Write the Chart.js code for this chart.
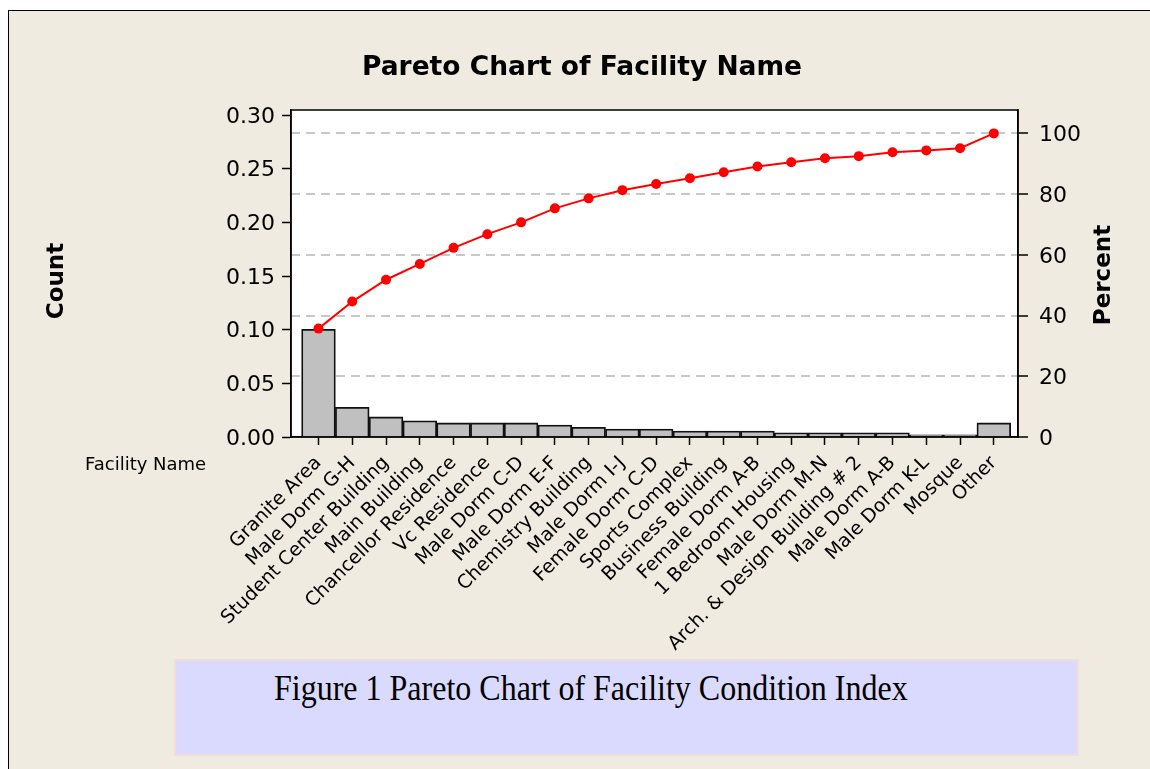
<!DOCTYPE html>
<html>
<head>
<meta charset="utf-8">
<script src="https://cdn.jsdelivr.net/npm/chart.js@4.4.1/dist/chart.umd.min.js"></script>
<style>
  body { margin: 0; width: 1150px; height: 769px; overflow: hidden; position: relative; background: #fff; }
  #frame { position: absolute; left: 8px; top: 10px; width: 1160px; height: 800px; border: 1.5px solid #000; background: #efebe1; }
  #chart { position: absolute; left: 0; top: 0; }
  #caption { position: absolute; left: 174px; top: 659px; width: 901px; height: 93px; background: #dadaff; border: 2px solid #f3dcdc; }
  #caption span { position: absolute; left: 98px; top: 13px; font: 32px "Liberation Serif", "Times New Roman", serif; line-height: 32px; color: #000; white-space: nowrap; transform: scaleY(1.1); transform-origin: left bottom; }
</style>
</head>
<body>
<div id="frame"></div>
<canvas id="chart" width="1150" height="769"></canvas>
<div id="caption"><span>Figure 1 Pareto Chart of Facility Condition Index</span></div>
<script>
// facility names, in pareto order
const facilities = [
  "Granite Area", "Male Dorm G-H", "Student Center Building", "Main Building",
  "Chancellor Residence", "Vc Residence", "Male Dorm C-D", "Male Dorm E-F",
  "Chemistry Building", "Male Dorm I-J", "Female Dorm C-D", "Sports Complex",
  "Business Building", "Female Dorm A-B", "1 Bedroom Housing", "Male Dorm M-N",
  "Arch. & Design Building # 2", "Male Dorm A-B", "Male Dorm K-L", "Mosque", "Other"
];

// bar heights (Count axis)
const counts = [
  0.1003, 0.0277, 0.0187, 0.0150, 0.0131, 0.0131, 0.0131, 0.0112, 0.0090, 0.0074,
  0.0074, 0.0056, 0.0056, 0.0056, 0.0040, 0.0040, 0.0040, 0.0040, 0.0020, 0.0020, 0.0131
];

// cumulative percent (Percent axis)
const cumPercent = [
  35.7, 44.6, 51.8, 57.0, 62.3, 66.8, 70.7, 75.3, 78.6, 81.3,
  83.3, 85.2, 87.2, 89.1, 90.5, 91.8, 92.5, 93.8, 94.4, 95.1, 100
];

const countTicks = [0, 0.05, 0.10, 0.15, 0.20, 0.25, 0.30];
const percentTicks = [0, 20, 40, 60, 80, 100];

const chartTitle = "Pareto Chart of Facility Name";
const leftTitle = "Count";
const rightTitle = "Percent";
const xName = "Facility Name";

const FONT = '"DejaVu Sans", Verdana, sans-serif';

const frameText = {
  id: "frameText",
  beforeDraw(chart) {
    const { ctx, chartArea: a } = chart;
    ctx.save();
    ctx.fillStyle = "#fff";
    ctx.fillRect(a.left, a.top, a.right - a.left, a.bottom - a.top);
    ctx.restore();
  },
  afterDraw(chart) {
    const { ctx, chartArea: a } = chart;
    ctx.save();
    ctx.strokeStyle = "#000";
    ctx.lineWidth = 1.5;
    ctx.strokeRect(a.left, a.top, a.right - a.left, a.bottom - a.top);

    ctx.fillStyle = "#000";
    ctx.textAlign = "center";
    ctx.textBaseline = "middle";
    ctx.font = "bold 26.5px " + FONT;
    ctx.fillText(chartTitle, 582, 68);

    ctx.font = "bold 23px " + FONT;
    ctx.save();
    ctx.translate(57, 281);
    ctx.rotate(-Math.PI / 2);
    ctx.fillText(leftTitle, 0, 0);
    ctx.restore();
    ctx.save();
    ctx.translate(1104, 275);
    ctx.rotate(-Math.PI / 2);
    ctx.fillText(rightTitle, 0, 0);
    ctx.restore();

    ctx.font = "18px " + FONT;
    ctx.textAlign = "left";
    ctx.fillText(xName, 85, 465);
    ctx.restore();
  },
};

const ctx = document.getElementById("chart");
const chart = new Chart(ctx, {
  type: "bar",
  data: {
    datasets: [
      {
        type: "line",
        order: 0,
        yAxisID: "y1",
        data: cumPercent.map((v, i) => ({ x: i, y: v })),
        borderColor: "#ff0000",
        backgroundColor: "#ff0000",
        borderWidth: 2,
        pointRadius: 5,
        pointBorderWidth: 0,
        tension: 0,
      },
      {
        type: "bar",
        order: 1,
        yAxisID: "y",
        data: counts.map((v, i) => ({ x: i, y: v })),
        backgroundColor: "#c0c0c0",
        borderColor: "#111",
        borderWidth: 1.8,
        barPercentage: 1,
        categoryPercentage: 1,
      },
    ],
  },
  options: {
    responsive: false,
    animation: false,
    devicePixelRatio: 1,
    layout: { padding: { top: 110, left: 0, right: 0, bottom: 0 } },
    plugins: {
      legend: { display: false },
      tooltip: { enabled: false },
    },
    scales: {
      x: {
        type: "linear",
        offset: false,
        min: -0.814,
        max: 20.716,
        afterBuildTicks: (scale) => {
          scale.ticks = facilities.map((f, i) => ({ value: i }));
        },
        afterFit: (scale) => {
          scale.height = 332;
        },
        grid: {
          offset: false,
          drawOnChartArea: false,
          tickLength: 8,
          tickColor: "#000",
          tickWidth: 1.5,
        },
        border: { color: "#000", width: 1.5 },
        ticks: {
          autoSkip: false,
          minRotation: 45,
          maxRotation: 45,
          padding: 7,
          color: "#000",
          font: { family: FONT, size: 19 },
          callback: (v) => facilities[v],
        },
      },
      y: {
        position: "left",
        min: 0,
        max: 0.3047,
        afterBuildTicks: (scale) => {
          scale.ticks = countTicks.map((v) => ({ value: v }));
        },
        afterFit: (scale) => {
          scale.width = 291;
        },
        grid: {
          drawOnChartArea: false,
          tickLength: 9,
          tickColor: "#000",
          tickWidth: 1.5,
        },
        border: { color: "#000", width: 1.5 },
        ticks: {
          padding: 7,
          labelOffset: 2,
          color: "#000",
          font: { family: FONT, size: 22 },
          callback: (v) => v.toFixed(2),
        },
      },
      y1: {
        position: "right",
        min: 0,
        max: 107.7,
        afterBuildTicks: (scale) => {
          scale.ticks = percentTicks.map((v) => ({ value: v }));
        },
        afterFit: (scale) => {
          scale.width = 132;
        },
        grid: {
          drawOnChartArea: true,
          color: (c) => (c.tick && c.tick.value === 0 ? "rgba(0,0,0,0)" : "#c8c8c8"),
          lineWidth: 2,
          tickLength: 10,
          tickColor: "#000",
          tickWidth: 1.5,
        },
        border: { color: "#000", width: 1.5, dash: [9, 6] },
        ticks: {
          padding: 11,
          labelOffset: 2,
          color: "#000",
          font: { family: FONT, size: 22 },
        },
      },
    },
  },
  plugins: [frameText],
});
</script>
</body>
</html>
